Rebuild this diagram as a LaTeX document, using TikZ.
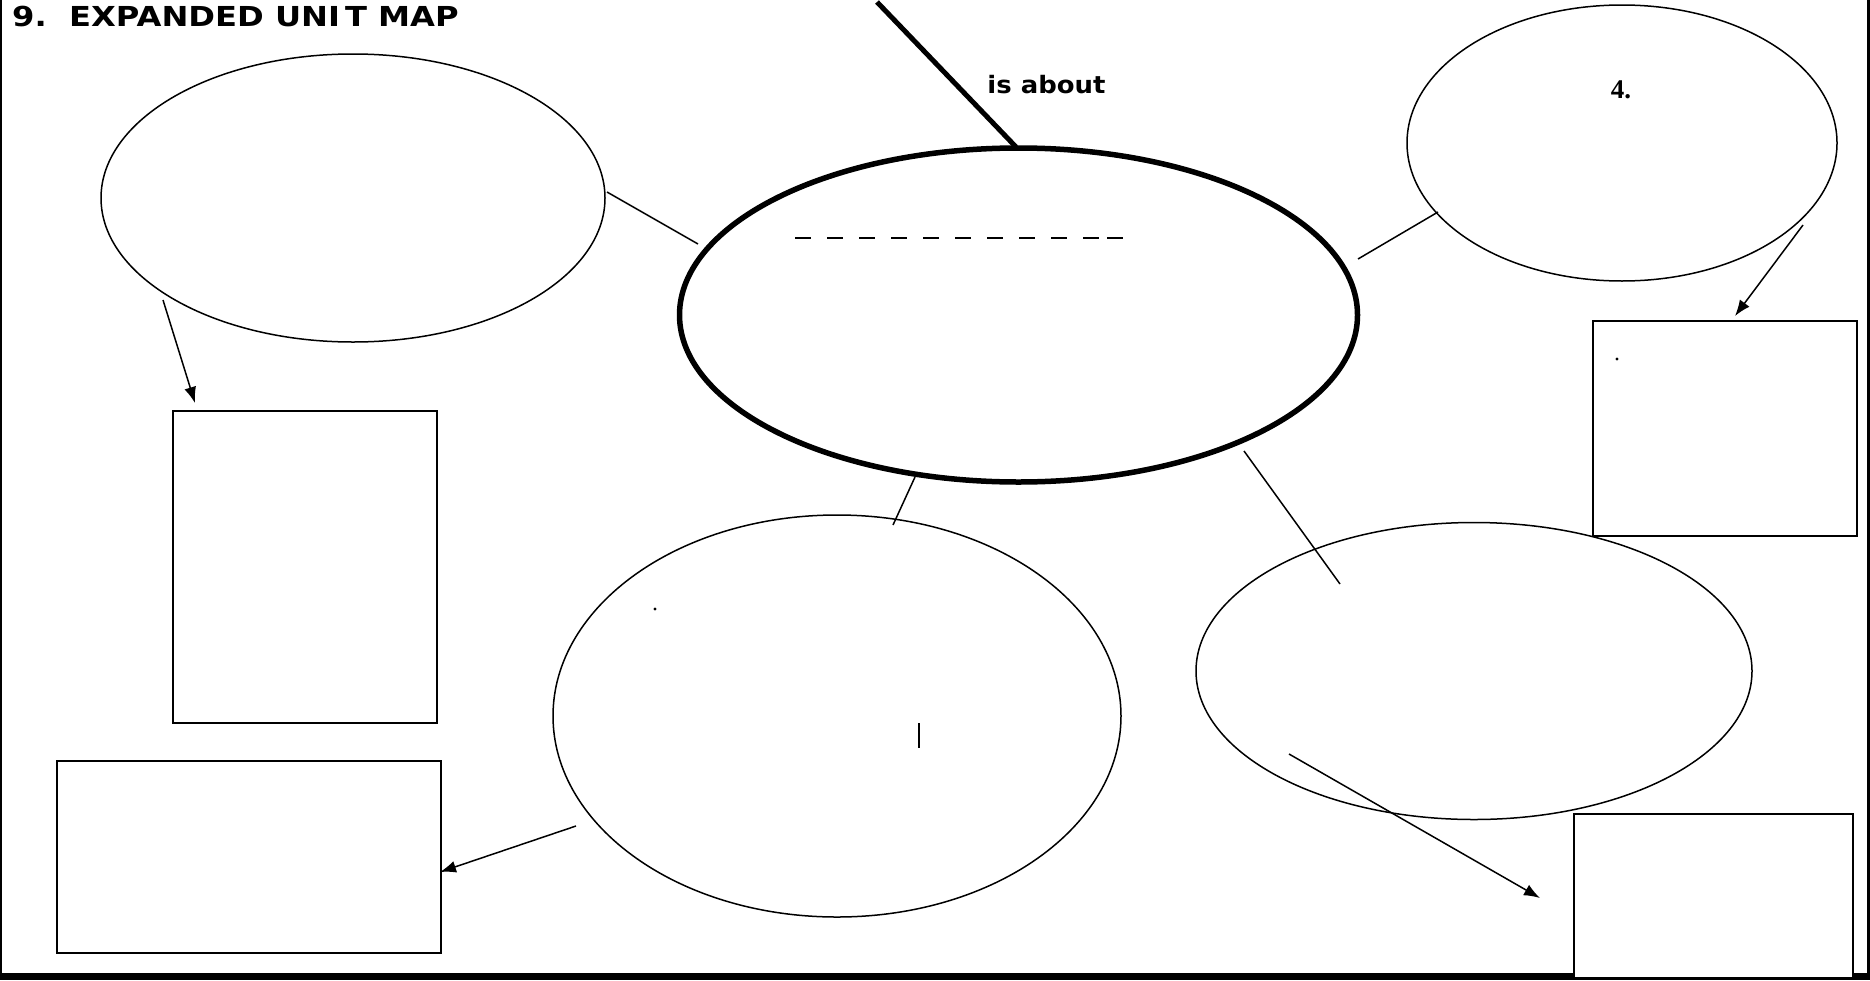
\documentclass[tikz,border=0pt]{standalone}
\usepackage{fontspec}
\setmainfont{Liberation Serif}
\newfontfamily\dejab{DejaVu Sans}
\newfontfamily\dejabw{DejaVu Sans}[FakeStretch=1.17]
\newfontfamily\dejabm{DejaVu Sans}[FakeStretch=1.08]
\usetikzlibrary{shapes.geometric,arrows.meta}
\tikzset{
  bubble/.style={draw, ellipse, line width=1.5pt, inner sep=0pt},
  mainbubble/.style={draw, ellipse, line width=5.5pt, inner sep=0pt},
  box/.style={draw, rectangle, line width=1.8pt, inner sep=0pt, anchor=north west},
  link/.style={line width=1.5pt},
  arr/.style={line width=1.5pt, -{Latex[length=16pt,width=12pt]}},
}
\begin{document}
\begin{tikzpicture}[x=1pt,y=-1pt]
\useasboundingbox (0,0) rectangle (1870,980);
% frame
\fill[black] (0,973) rectangle (1870,980);
\fill[black] (0,0) rectangle (2,980);
\fill[black] (1867,0) rectangle (1870,980);
% title
\node[anchor=west, inner sep=0pt] (title) at (12,17) {\dejabw\bfseries\fontsize{27.5}{30}\selectfont 9.\ \ EXPANDED UNI\kern5pt T MAP};
% ellipses
\node[mainbubble, minimum width=678pt, minimum height=334pt] (main) at (1018.5,315) {};
\node[bubble, minimum width=504pt, minimum height=288pt] (tl) at (353,198) {};
\node[bubble, minimum width=430pt, minimum height=276pt] (tr) at (1622,143) {};
\node[bubble, minimum width=568pt, minimum height=402pt] (bc) at (837,716) {};
\node[bubble, minimum width=556pt, minimum height=297pt] (br) at (1474,671) {};
% boxes
\node[box, minimum width=264pt, minimum height=312pt] (lbox) at (172,410) {};
\node[box, minimum width=384pt, minimum height=192pt] (blbox) at (56,760) {};
\node[box, minimum width=264pt, minimum height=215pt] (rbox) at (1592,320) {};
\node[box, fill=white, minimum width=279pt, minimum height=164pt] (brbox) at (1573,813) {};
% texts
\node[inner sep=0pt] (about) at (1046.5,85) {\dejabm\bfseries\fontsize{24}{28}\selectfont is about};
\node[inner sep=0pt] (four) at (1621,90) {\bfseries\fontsize{27}{30}\selectfont 4.};
% dashes
\foreach \i in {0,...,9} {\draw[line width=1.6pt] (795+32*\i,238) -- (811+32*\i,238);}
\draw[line width=1.6pt] (1107,238) -- (1123,238);
% marks
\fill (655,609) circle (1.6pt);
\fill (1617,359) circle (1.6pt);
\draw[line width=2pt] (919,723) -- (919,748);
% connector endpoints
\coordinate (top) at (877,2);
\coordinate (mainTop) at (1016,147);
\coordinate (tlR) at (607,192);
\coordinate (mainL) at (698,244);
\coordinate (tlB) at (163,300);
\coordinate (lboxT) at (195,403);
\coordinate (mainB) at (915,477);
\coordinate (bcT) at (893,525);
\coordinate (bcL) at (576,826);
\coordinate (blboxR) at (440,872);
\coordinate (mainR) at (1358,259);
\coordinate (trL) at (1438,212);
\coordinate (trR) at (1803,225);
\coordinate (rboxT) at (1735,316);
\coordinate (mainBR) at (1244,451);
\coordinate (brT) at (1340,584);
\coordinate (brIn) at (1289,754);
\coordinate (brboxL) at (1540,898);
% connectors
\draw[line width=5pt] (top) -- (mainTop);
\draw[link] (tlR) -- (mainL);
\draw[arr] (tlB) -- (lboxT);
\draw[link] (mainB) -- (bcT);
\draw[arr] (bcL) -- (blboxR);
\draw[link] (mainR) -- (trL);
\draw[arr] (trR) -- (rboxT);
\draw[link] (mainBR) -- (brT);
\draw[arr] (brIn) -- (brboxL);
\end{tikzpicture}
\end{document}
